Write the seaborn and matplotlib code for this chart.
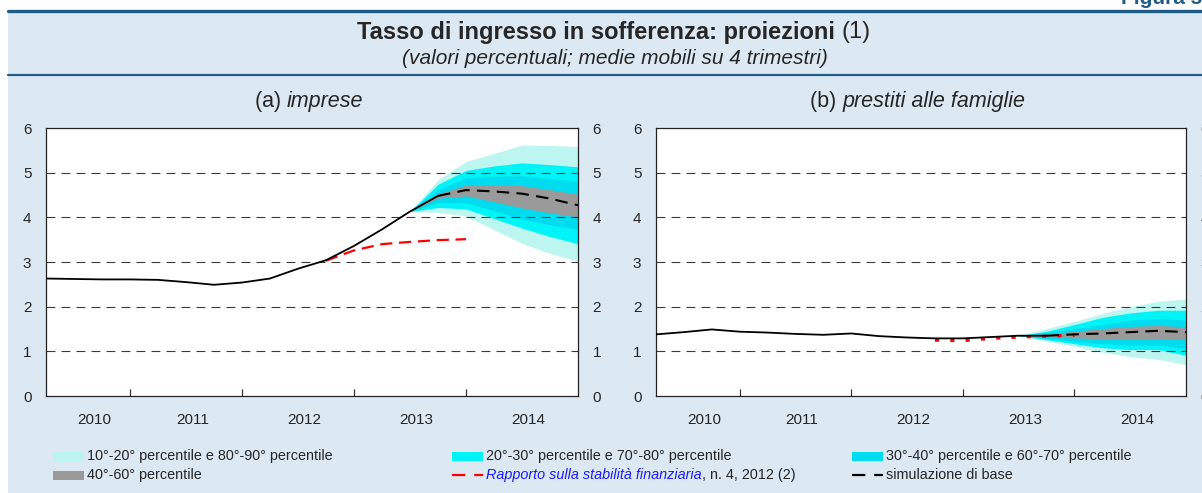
import numpy as np
import pandas as pd
import matplotlib.pyplot as plt
import seaborn as sns
from matplotlib.lines import Line2D
from matplotlib.patches import Rectangle

sns.set_style("white")
plt.rcParams["font.family"] = ["Liberation Sans", "DejaVu Sans"]

# quarterly data 2010Q1 - 2014Q4, plotted at the end of each quarter
trimestri = pd.period_range("2010Q1", "2014Q4", freq="Q")
x_all = np.asarray(trimestri.year + trimestri.quarter / 4, dtype=float)

anni = [2010, 2011, 2012, 2013, 2014]
y_ticks = [0, 1, 2, 3, 4, 5, 6]

# (a) imprese
imp_storico = [2.63, 2.62, 2.61, 2.61, 2.60, 2.55, 2.49, 2.54, 2.63, 2.85,
               3.04, 3.36, 3.73, 4.13, 4.48]          # 2010Q1-2013Q3
imp_base = [4.48, 4.61, 4.58, 4.53, 4.42, 4.27]       # 2013Q3-2014Q4
imp_rsf = [3.03, 3.26, 3.40, 3.45, 3.49, 3.51]        # 2012Q3-2013Q4
imp_fan = {                                           # 2013Q2-2014Q4
    "p10": [4.13, 4.11, 4.03, 3.72, 3.42, 3.19, 3.02],
    "p20": [4.13, 4.22, 4.19, 3.97, 3.76, 3.57, 3.41],
    "p30": [4.13, 4.33, 4.33, 4.15, 3.96, 3.84, 3.73],
    "p40": [4.13, 4.43, 4.48, 4.35, 4.21, 4.10, 4.01],
    "p60": [4.13, 4.53, 4.72, 4.73, 4.71, 4.62, 4.52],
    "p70": [4.13, 4.62, 4.88, 4.92, 4.93, 4.87, 4.80],
    "p80": [4.13, 4.74, 5.05, 5.15, 5.22, 5.18, 5.13],
    "p90": [4.13, 4.84, 5.25, 5.43, 5.62, 5.61, 5.58],
}

# (b) prestiti alle famiglie
fam_storico = [1.38, 1.43, 1.49, 1.44, 1.42, 1.39, 1.37, 1.40, 1.34, 1.31,
               1.29, 1.29, 1.32, 1.35, 1.35]
fam_base = [1.35, 1.38, 1.40, 1.43, 1.46, 1.43]
fam_rsf = [1.25, 1.24, 1.29, 1.32, 1.34, 1.36]
fam_fan = {
    "p10": [1.35, 1.23, 1.11, 0.98, 0.88, 0.82, 0.70],
    "p20": [1.35, 1.26, 1.17, 1.08, 1.04, 1.04, 0.91],
    "p30": [1.35, 1.29, 1.22, 1.17, 1.14, 1.14, 1.06],
    "p40": [1.35, 1.32, 1.30, 1.28, 1.28, 1.28, 1.26],
    "p60": [1.35, 1.38, 1.45, 1.51, 1.56, 1.58, 1.55],
    "p70": [1.35, 1.42, 1.51, 1.60, 1.70, 1.73, 1.70],
    "p80": [1.35, 1.45, 1.60, 1.76, 1.86, 1.92, 1.92],
    "p90": [1.35, 1.51, 1.67, 1.85, 2.00, 2.12, 2.17],
}

# colours
BG = "#dde9f2"
BLU = "#1f5d87"
C1090 = "#bdf6f1"
C2080 = "#00f3f6"
C3070 = "#00dcef"
C4060 = "#9a9a9a"
ROSSO = "#ff0000"

W, H = 1202, 493
fig = plt.figure(figsize=(W / 100, H / 100), dpi=100, facecolor=BG)


def fx(px):
    return px / W


def fy(py):
    return 1 - py / H


# white strip on top / left, blue rules
fig.add_artist(Rectangle((0, fy(11)), 1, 11 / H, transform=fig.transFigure,
                         facecolor="white", edgecolor="none", zorder=0))
fig.add_artist(Rectangle((0, 0), fx(8), 1, transform=fig.transFigure,
                         facecolor="white", edgecolor="none", zorder=0))
fig.add_artist(Line2D([fx(8), 1], [fy(11), fy(11)], color=BLU, lw=2.4))
fig.add_artist(Line2D([fx(8), 1], [fy(75), fy(75)], color=BLU, lw=1.6))
fig.text(fx(1121), fy(4), "Figura 5", fontsize=15, fontweight="bold",
         color=BLU, ha="left", va="baseline")

renderer = fig.canvas.get_renderer()


def testo_misto(xc, yc, parti, ha="center"):
    objs = [fig.text(0, fy(yc), s, ha="left", va="center", **st) for s, st in parti]
    widths = [t.get_window_extent(renderer).width for t in objs]
    x0 = xc - sum(widths) / 2 if ha == "center" else xc
    for t, w in zip(objs, widths):
        t.set_x(fx(x0))
        x0 += w


testo_misto(614, 32, [("Tasso di ingresso in sofferenza: proiezioni ",
                       dict(fontsize=17, fontweight="bold")),
                      ("(1)", dict(fontsize=17))])
fig.text(fx(615), fy(59), "(valori percentuali; medie mobili su 4 trimestri)",
         fontsize=15, style="italic", ha="center", va="center")

pannelli = [
    dict(pos=(46, 578), titolo=("(a) ", "imprese"), storico=imp_storico,
         base=imp_base, rsf=imp_rsf, fan=imp_fan,
         rsf_ls=(0, (5.5, 3.0)), rsf_lw=1.6),
    dict(pos=(656, 1186), titolo=("(b) ", "prestiti alle famiglie"),
         storico=fam_storico, base=fam_base, rsf=fam_rsf, fan=fam_fan,
         rsf_ls=(0, (1.3, 3.5)), rsf_lw=2.3),
]

top, bottom = 128, 396
for p in pannelli:
    l, r = p["pos"]
    ax = fig.add_axes([fx(l), fy(bottom), (r - l) / W, (bottom - top) / H])
    ax.set_facecolor("white")

    fan = p["fan"]
    x_fan = x_all[13:]
    ax.fill_between(x_fan, fan["p10"], fan["p90"], color=C1090, lw=0, zorder=1)
    ax.fill_between(x_fan, fan["p20"], fan["p80"], color=C2080, lw=0, zorder=1)
    ax.fill_between(x_fan, fan["p30"], fan["p70"], color=C3070, lw=0, zorder=1)
    ax.fill_between(x_fan, fan["p40"], fan["p60"], color=C4060, lw=0, zorder=1)

    for yv in y_ticks[1:-1]:
        ax.axhline(yv, color="#3a3a3a", lw=0.8, linestyle=(0, (8, 5.5)), zorder=2)

    sns.lineplot(x=x_all[10:16], y=p["rsf"], ax=ax, color=ROSSO, lw=p["rsf_lw"],
                 linestyle=p["rsf_ls"], zorder=3)
    sns.lineplot(x=x_all[:15], y=p["storico"], ax=ax, color="black", lw=1.3, zorder=4)
    sns.lineplot(x=x_all[14:], y=p["base"], ax=ax, color="black", lw=1.5,
                 linestyle=(0, (6, 3.5)), zorder=4)

    ax.set_xlim(x_all[0], x_all[-1])
    ax.set_ylim(0, 6)
    ax.set_xlabel("")
    ax.set_ylabel("")

    ax.set_xticks(anni[1:])
    ax.set_xticklabels([])
    # year labels centred on the visible part of each year
    centri = [(max(a, x_all[0]) + a + 1) / 2 + 0.06 for a in anni]
    ax.set_xticks(centri, minor=True)
    ax.set_xticklabels([str(a) for a in anni], minor=True)
    ax.tick_params(axis="x", which="major", direction="in", length=5,
                   width=0.9, color="#333333", bottom=True)
    ax.tick_params(axis="x", which="minor", length=0, pad=12, labelsize=11)

    ax.set_yticks(y_ticks)
    ax.tick_params(axis="y", left=False, right=False, labelleft=True,
                   labelright=True, pad=7, labelsize=11)
    for s in ax.spines.values():
        s.set_visible(True)
        s.set_color("#222222")
        s.set_linewidth(0.9)

    t1, t2 = p["titolo"]
    testo_misto((l + r) / 2 - 3, 101, [(t1, dict(fontsize=15.5)),
                                       (t2, dict(fontsize=15.5, style="italic"))])

# legend
LF = 10.4
righe = [456, 475]
colonne = [53, 452, 852]
voci = [
    (0, 0, "patch", C1090, [("10°-20° percentile e 80°-90° percentile", {})]),
    (1, 0, "patch", C2080, [("20°-30° percentile e 70°-80° percentile", {})]),
    (2, 0, "patch", C3070, [("30°-40° percentile e 60°-70° percentile", {})]),
    (0, 1, "patch", C4060, [("40°-60° percentile", {})]),
    (1, 1, "line", ROSSO, [("Rapporto sulla stabilità finanziaria",
                            dict(style="italic", color="#1a1aff")),
                           (", n. 4, 2012 (2)", {})]),
    (2, 1, "line", "black", [("simulazione di base", {})]),
]
for c, rr, kind, col, parti in voci:
    x0 = colonne[c]
    yc = righe[rr]
    if kind == "patch":
        fig.add_artist(Rectangle((fx(x0), fy(yc + 4.5)), 31 / W, 9 / H,
                                 transform=fig.transFigure, facecolor=col,
                                 edgecolor="none"))
    else:
        fig.add_artist(Line2D([fx(x0), fx(x0 + 31)], [fy(yc), fy(yc)],
                              color=col, lw=1.6, linestyle=(0, (6, 4))))
    testo_misto(x0 + 34, yc, [(s, dict(fontsize=LF, **st)) for s, st in parti],
                ha="left")

fig.savefig("out.png", dpi=100, facecolor=BG)
